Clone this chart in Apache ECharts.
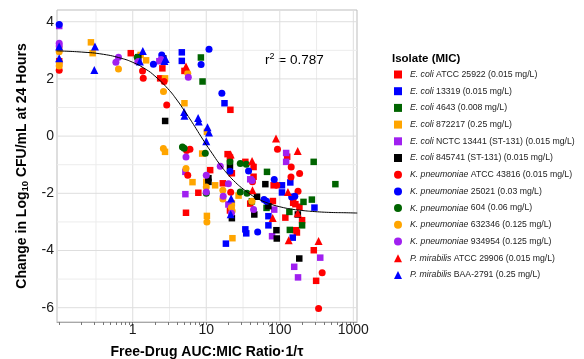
<!DOCTYPE html>
<html><head><meta charset="utf-8">
<script src="https://cdn.jsdelivr.net/npm/echarts@6/dist/echarts.min.js"></script>
<style>html,body{margin:0;padding:0;background:#fff}#c{width:584px;height:359px}</style>
</head><body><div id="c"></div>
<script>
// ---------- data: [AUC:MIC ratio, change in log10 CFU/mL] ----------
const ecoli25922 = [[0.1,2.62],[0.94,2.9],[2.36,2.02],[2.53,2.37],[5.05,2.28],[21.3,0.92],[5.3,-2.68],[7.8,-1.98],[11.3,-1.19],[16.8,-1.65],[19.5,-0.63],[21,-0.75],[22.3,-1.3],[21,-2.6],[34,-0.9],[44,-1.08],[44,-1.42],[39.6,-2.36],[82.5,-1.72],[80.6,-2.27],[119,-2.85],[126,-0.72],[152,-2.33],[163,-2.38],[185,-2.47],[201,-2.94],[165,-3.29],[171,-3.37],[290,-3.99],[312,-5.06]];
const ecoli13319 = [[4.65,2.93],[4.65,2.63],[17.7,1.15],[18.5,-3.76],[34,-3.26],[35,-3.4],[70,-2.8],[70,-3.12],[107,-1.72],[107,-1.97],[139,-1.62],[150,-3.55],[296,-2.5]];
const ecoli4643 = [[8.45,2.75],[8.9,1.91],[67,-1.25],[66,-2.51],[41.7,-2.28],[135,-2.65],[137,-3.28],[201,-3.12],[210,-2.3],[273,-2.22],[289,-0.9],[570,-1.68]];
const ecoli872217 = [[0.1,3.05],[0.1,2.55],[0.27,3.28],[0.285,2.9],[1.28,2.84],[1.52,2.65],[2.75,2.02],[5.05,1.15],[2.75,-0.55],[8.8,-0.61],[6.5,-1.61],[10.2,0.15],[10,-1.6],[13.2,-1.72],[10.2,-2.79],[22.3,-2.35],[22.7,-3.57],[27.5,-2.08]];
const ecoliNCTC13441 = [[0.1,3.85],[1.17,2.62],[2.3,2.62],[5.2,-1.25],[5.2,-2.03],[20,-2.39],[39.6,-1.51],[84,-2.57],[78.5,-3.5],[122,-0.59],[122,-0.9],[157,-4.57],[177,-4.94],[355,-4.25]];
const ecoli845741 = [[1.19,2.76],[2.6,2.72],[2.76,0.53],[10.7,-1.47],[10.7,-1.6],[21,-1.06],[22.3,-2.87],[49,-2.12],[45,-2.74],[63.6,-1.68],[70,-2.45],[90,-3.29],[91,-3.58],[176,-2.74],[184,-4.28]];
const kpATCC43816 = [[0.1,2.3],[1.36,2.28],[1.39,2.02],[2.67,1.91],[2.9,1.09],[5.4,-0.5],[6.0,-0.46],[5.6,-1.37],[21.5,-1.96],[42.5,-1.6],[93,-0.46],[91,-1.72],[143,-1.08],[142,-1.43],[186,-1.31],[177,-1.93],[155,-2.13],[377,-4.78],[337,-6.03]];
const kp25021 = [[0.1,3.9],[1.91,2.51],[2.48,2.84],[8.5,2.5],[10.9,3.04],[16.3,1.5],[21,-1.23],[37.6,-1.22],[84,-1.52],[50,-3.35],[61,-2.22],[66,-2.28],[145,-2.13],[160,-2.1]];
const kp604 = [[1.15,2.76],[4.74,-0.38],[5.0,-0.42],[9.7,-0.6],[10,-2.0],[21,-0.9],[29,-0.96],[35,-0.98],[29,-1.95],[35.8,-2.0]];
const kp632346 = [[0.1,2.95],[0.1,2.45],[0.64,2.35],[2.62,1.56],[5.6,2.2],[2.61,-0.43],[5.3,-1.13],[10,-1.78],[10.2,-3.0],[16.8,-1.89],[16.8,-2.2],[22,-2.5],[22.5,-2.62],[41.8,-2.28]];
const kp934954 = [[0.1,3.25],[0.1,3.15],[0.64,2.76],[0.59,2.58],[1.19,2.61],[2.43,2.68],[5.7,2.06],[5.3,-0.73],[10,-1.37],[10,-1.95],[15.5,-1.05],[17,-2.1],[20,-1.67],[22,-2.7],[42,-1.55],[44,-2.57]];
const pmATCC29906 = [[5.3,2.43],[21.5,-0.64],[42,-0.87],[42.5,-1.89],[88.8,-0.08],[175,-0.52],[129,-1.95],[175,-2.7],[80,-2.86],[132,-3.64],[337,-3.67]];
const pmBAA2791 = [[0.1,3.13],[0.1,2.72],[0.306,3.13],[0.30,2.31],[1.37,2.98],[1.25,2.61],[2.7,2.63],[2.8,2.7],[5.0,0.84],[5.05,0.71],[7.75,0.63],[7.9,0.51],[10.4,0.31],[10.9,0.13],[10,-0.18],[21.8,-2.18],[21.5,-2.73]];

// fitted curve
const fitCurve = [[0.092,2.98],[0.2,2.94],[0.4,2.86],[0.7,2.72],[1,2.58],[1.5,2.34],[2,2.1],[3,1.66],[4,1.26],[5,0.9],[6,0.6],[7,0.33],[8,0.09],[10,-0.3],[12,-0.6],[15,-0.96],[20,-1.36],[25,-1.62],[30,-1.8],[40,-2.04],[50,-2.19],[70,-2.35],[100,-2.47],[150,-2.56],[200,-2.6],[300,-2.64],[500,-2.67],[800,-2.68],[1130,-2.69]];

const seriesNames = ['E. coli ATCC 25922 (0.015 mg/L)','E. coli 13319 (0.015 mg/L)','E. coli 4643 (0.008 mg/L)','E. coli 872217 (0.25 mg/L)','E. coli NCTC 13441 (ST-131) (0.015 mg/L)','E. coli 845741 (ST-131) (0.015 mg/L)','K. pneumoniae ATCC 43816 (0.015 mg/L)','K. pneumoniae 25021 (0.03 mg/L)','K. pneumoniae 604 (0.06 mg/L)','K. pneumoniae 632346 (0.125 mg/L)','K. pneumoniae 934954 (0.125 mg/L)','P. mirabilis ATCC 29906 (0.015 mg/L)','P. mirabilis BAA-2791 (0.25 mg/L)'];
const seriesData = [ecoli25922, ecoli13319, ecoli4643, ecoli872217, ecoliNCTC13441, ecoli845741, kpATCC43816, kp25021, kp604, kp632346, kp934954, pmATCC29906, pmBAA2791];

const xTickLabels = [1, 10, 100, 1000];
const yTickLabels = [-6, -4, -2, 0, 2, 4];
const xGridMajorExp = [0, 1, 2, 3];           // decades 1..1000
const xGridMinorExp = [-0.5, 0.5, 1.5, 2.5];  // half decades
const yGridMajor = [-6, -4, -2, 0, 2, 4];
const yGridMinor = [-5, -3, -1, 1, 3];

// ---------- styling ----------
const colors = ['#FF0000','#0000FF','#006400','#FFA500','#A020F0','#000000','#FF0000','#0000FF','#006400','#FFA500','#A020F0','#FF0000','#0000FF'];
const symbols = ['rect','rect','rect','rect','rect','rect','circle','circle','circle','circle','circle','triangle','triangle'];
const sizes = {rect: 6.5, circle: 7, triangle: 8};
const FONT = '"Liberation Sans", Arial, sans-serif';
const L = v => Math.log10(v);
const MAJ = '#dedede', MIN = '#ececec';

const XMIN = -1.03, XMAX = 3.05, YMIN = -6.5, YMAX = 4.41;
const xMinorTicks = [];
for (let n = -1; n <= 3; n++) for (let k = 1; k <= 9; k++) { const v = L(k * Math.pow(10, n)); if (v >= XMIN && v <= XMAX) xMinorTicks.push(v); }

// panel grid lines, placed through the library's own axes
const vLines = [].concat(
  xGridMinorExp.map(v => ({v, c: MIN})), xGridMajorExp.map(v => ({v, c: MAJ})));
const hLines = [].concat(
  yGridMinor.map(v => ({v, c: MIN})), yGridMajor.map(v => ({v, c: MAJ})));

const series = [];
vLines.forEach((g, i) => series.push({
  name: 'gv' + i, type: 'line', silent: true, z: 1, showSymbol: false, symbol: 'none',
  lineStyle: {color: g.c, width: 1}, data: [[g.v, YMIN], [g.v, YMAX]]
}));
hLines.forEach((g, i) => series.push({
  name: 'gh' + i, type: 'line', silent: true, z: 1, showSymbol: false, symbol: 'none',
  lineStyle: {color: g.c, width: 1}, data: [[XMIN, g.v], [XMAX, g.v]]
}));
seriesNames.forEach((name, i) => series.push({
  name, type: 'scatter', symbol: symbols[i], symbolSize: sizes[symbols[i]], z: 3,
  itemStyle: {color: colors[i], opacity: 1},
  data: seriesData[i].map(p => [L(p[0]), p[1]])
}));
series.push({
  name: 'fit', type: 'line', smooth: true, showSymbol: false, z: 5,
  lineStyle: {color: '#000', width: 1},
  data: fitCurve.map(p => [L(p[0]), p[1]])
});

const legendRich = {
  i: {fontStyle: 'italic', fontSize: 8.7, color: '#222', fontFamily: FONT, lineHeight: 9, padding: [0, 0, 0, 3]},
  n: {fontSize: 8.7, color: '#222', fontFamily: FONT, lineHeight: 9}
};

const chart = echarts.init(document.getElementById('c'), null, {renderer: 'canvas'});
chart.setOption({
  animation: false,
  backgroundColor: '#fff',
  textStyle: {fontFamily: FONT},
  grid: {left: 57, top: 10, width: 300, height: 312, show: true, borderColor: '#bdbdbd', borderWidth: 1,
    containLabel: false, outerBoundsMode: 'none'},
  xAxis: {
    type: 'value', min: XMIN, max: XMAX,
    name: 'Free-Drug AUC:MIC Ratio·1/τ', nameLocation: 'middle', nameGap: 23,
    nameTextStyle: {fontSize: 14, fontWeight: 'bold', color: '#000', fontFamily: FONT},
    axisLine: {show: true, onZero: false, lineStyle: {color: '#a8a8a8', width: 1}},
    axisTick: {show: true, length: 3, customValues: xMinorTicks, lineStyle: {color: '#777'}},
    axisLabel: {customValues: xTickLabels.map(L), fontSize: 14, color: '#1a1a1a', margin: 1,
      formatter: v => String(Math.round(Math.pow(10, v)))},
    splitLine: {show: false}
  },
  yAxis: {
    type: 'value', min: YMIN, max: YMAX,
    name: '{a|Change in Log}{s|10}{a| CFU/mL at 24 Hours}', nameLocation: 'middle', nameGap: 27,
    nameTextStyle: {rich: {
      a: {fontSize: 14, fontWeight: 'bold', color: '#000', fontFamily: FONT, lineHeight: 16},
      s: {fontSize: 9.5, fontWeight: 'bold', color: '#000', fontFamily: FONT, lineHeight: 10, verticalAlign: 'bottom'}
    }},
    axisLine: {show: false, onZero: false},
    axisTick: {show: false},
    axisLabel: {customValues: yTickLabels, fontSize: 14, color: '#1a1a1a', margin: 3},
    splitLine: {show: false}
  },
  legend: {
    data: seriesNames, orient: 'vertical', left: 394, top: 70, padding: 0,
    itemWidth: 8, itemHeight: 8, itemGap: 7.7, symbolKeepAspect: true,
    textStyle: {fontSize: 8.7, color: '#222', lineHeight: 9, rich: legendRich},
    formatter: name => name.replace(/^(E\. coli|K\. pneumoniae|P\. mirabilis)(.*)$/, '{i|$1}{n|$2}')
  },
  graphic: [
    {type: 'text', left: 392, top: 53, silent: true,
      style: {text: 'Isolate (MIC)', fontSize: 11.5, fontWeight: 'bold', fill: '#000', fontFamily: FONT}},
    {type: 'text', left: 265, top: 52, silent: true,
      style: {text: '{a|r}{s|2}{a| = 0.787}', rich: {
        a: {fontSize: 13.5, fill: '#000', fontFamily: FONT, lineHeight: 17},
        s: {fontSize: 9, fill: '#000', fontFamily: FONT, lineHeight: 10, verticalAlign: 'top'}
      }}}
  ],
  series
});
</script></body></html>
